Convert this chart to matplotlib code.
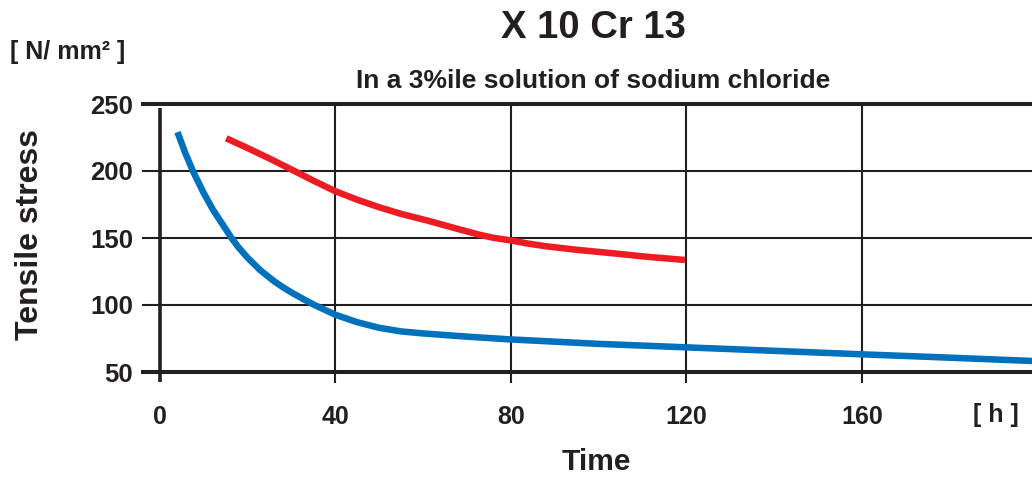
import matplotlib
matplotlib.use("Agg")
import matplotlib.pyplot as plt

# ---- data ----
blue_x = [4.1, 5.8, 7.6, 10, 12.2, 14, 16.4, 18, 20, 22.9, 26, 28, 30.4, 33, 35.3, 40, 45, 50, 55, 60, 70, 80, 100, 120, 140, 160, 180, 199]
blue_y = [229, 214, 200, 184, 171, 162, 150, 143, 135.5, 126.1, 118, 113.5, 108.7, 104, 100, 92.8, 87.2, 83, 80.3, 78.8, 76.4, 74.3, 71, 68.4, 65.8, 63.2, 60.7, 58.2]

red_x = [15.2, 20, 25, 30, 35, 40, 45, 50, 55, 61.5, 67, 72.9, 76, 79.8, 84, 88.1, 95, 103.3, 111, 119.7]
red_y = [224.4, 217.2, 209.4, 201.2, 192.9, 185, 178.6, 173, 168, 162.6, 157.6, 152.4, 150.2, 148.3, 145.8, 143.8, 141.2, 138.6, 136, 133.6]

x_ticks = [0, 40, 80, 120, 160]
y_ticks = [50, 100, 150, 200, 250]

title = "X 10 Cr 13"
subtitle = "In a 3%ile solution of sodium chloride"
y_label = "Tensile stress"
y_unit = "[ N/ mm² ]"
x_label = "Time"
x_unit = "[ h ]"

BLUE = "#0071BC"
RED = "#ED1C24"
INK = "#231F20"

plt.rcParams['font.family'] = ['Liberation Sans', 'DejaVu Sans']
plt.rcParams['font.weight'] = 'bold'

W, H = 1032, 479
fig = plt.figure(figsize=(W / 100, H / 100), dpi=100)
ax = fig.add_axes([143 / W, 1 - 372 / H, 1 - 143 / W, 268 / H])
ax.set_xlim(-3.76, 198.75)
ax.set_ylim(50, 250)
for s in ax.spines.values():
    s.set_visible(False)

# horizontal grid lines
for yv in y_ticks:
    lw = 2.9 if yv in (y_ticks[0], y_ticks[-1]) else 1.5
    ax.axhline(yv, color=INK, lw=lw, zorder=1, clip_on=False)

# vertical grid lines (extend slightly below the bottom as ticks)
for xv in x_ticks:
    if xv == 0:
        ax.plot([xv, xv], [42.5, 246.8], color=INK, lw=2.6, zorder=1,
                clip_on=False, solid_capstyle='butt')
    else:
        ax.plot([xv, xv], [42.0, 250], color=INK, lw=1.5, zorder=1,
                clip_on=False, solid_capstyle='butt')

ax.plot(blue_x, blue_y, color=BLUE, lw=4.7, zorder=3,
        solid_capstyle='butt', solid_joinstyle='round')
ax.plot(red_x, red_y, color=RED, lw=4.7, zorder=3,
        solid_capstyle='butt', solid_joinstyle='round')

ax.set_xticks(x_ticks)
ax.set_yticks(y_ticks)
ax.set_xticklabels([str(v) for v in x_ticks], fontsize=18, fontweight='bold', color=INK)
ax.set_yticklabels([str(v) for v in y_ticks], fontsize=18.5, fontweight='bold', color=INK)
ax.tick_params(axis='x', length=0, pad=24)
ax.tick_params(axis='y', length=0, pad=7)

fig.text(593 / W, 1 - 28 / H, title, ha='center', va='center', fontsize=27.5,
         fontweight='bold', color=INK)
fig.text(593 / W, 1 - 81 / H, subtitle, ha='center', va='center', fontsize=19,
         fontweight='bold', color=INK)
fig.text(30 / W, 1 - 234 / H, y_label, ha='center', va='center', rotation=90,
         fontsize=23, fontweight='bold', color=INK)
fig.text(10 / W, 1 - 52 / H, y_unit, ha='left', va='center', fontsize=18,
         fontweight='bold', color=INK)
fig.text(596 / W, 1 - 462 / H, x_label, ha='center', va='center', fontsize=21.5,
         fontweight='bold', color=INK)
fig.text(996 / W, 1 - 415 / H, x_unit, ha='center', va='center', fontsize=18,
         fontweight='bold', color=INK)

fig.savefig("out.png", dpi=100)
